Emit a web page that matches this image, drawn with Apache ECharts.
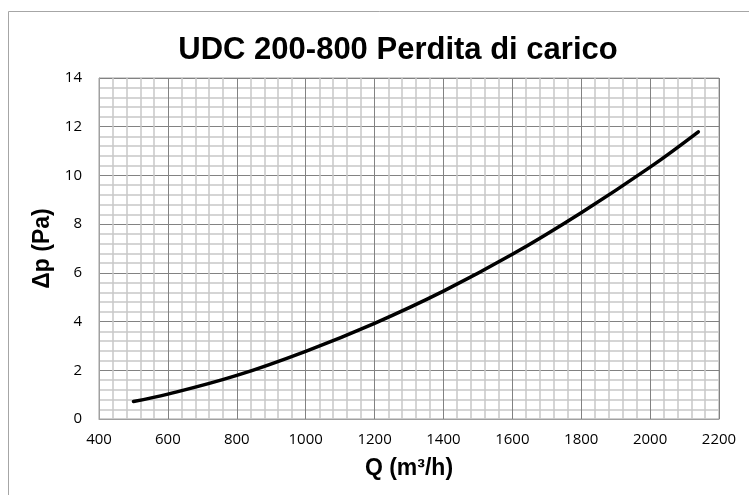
<!DOCTYPE html>
<html>
<head>
<meta charset="utf-8">
<script src="https://cdn.jsdelivr.net/npm/echarts@6/dist/echarts.min.js"></script>
<style>
  html, body { margin: 0; padding: 0; background: #ffffff; }
  #chart { width: 749px; height: 495px; }
</style>
</head>
<body>
<div id="chart"></div>
<script>
// Pressure drop curve of the UDC 200-800 unit
const airflow = [500, 600, 800, 1000, 1200, 1400, 1600, 1800, 2000, 2140];
const pressureDrop = [0.72, 1.02, 1.79, 2.78, 3.93, 5.25, 6.76, 8.47, 10.34, 11.79];

const titleText = 'UDC 200-800 Perdita di carico';
const xName = 'Q (m³/h)';
const yName = 'Δp (Pa)';

const xRange = { min: 400, max: 2200, step: 200 };
const yRange = { min: 0, max: 14, step: 2 };

const chart = echarts.init(document.getElementById('chart'), null, { renderer: 'canvas' });

const tickFont = { fontFamily: 'Open Sans', fontSize: 15, color: '#000000', formatter: v => String(v) };
const nameFont = { fontFamily: 'Liberation Sans', fontWeight: 'bold', fontSize: 23, color: '#000000' };

chart.setOption({
  animation: false,
  backgroundColor: '#ffffff',
  title: {
    text: titleText,
    left: 393,
    top: 30,
    textAlign: 'center',
    textStyle: { fontFamily: 'Liberation Sans', fontWeight: 'bold', fontSize: 31, color: '#000000' }
  },
  graphic: [{
    type: 'rect',
    shape: { x: 8.5, y: 11.5, width: 800, height: 600 },
    style: { fill: 'none', stroke: '#a6a6a6', lineWidth: 1 },
    silent: true,
    z: -10
  }],
  grid: { left: 99, top: 78, right: 30, bottom: 76, show: true, borderColor: '#a0a0a0', borderWidth: 1 },
  xAxis: {
    type: 'value',
    min: xRange.min, max: xRange.max, interval: xRange.step,
    name: xName, nameLocation: 'middle', nameGap: 38,
    nameTextStyle: nameFont,
    axisLine: { show: true, lineStyle: { color: '#a0a0a0', width: 1 } },
    axisTick: { show: false },
    axisLabel: Object.assign({ margin: 13 }, tickFont),
    splitLine: { show: true, lineStyle: { color: '#828282', width: 1 } },
    minorTick: { show: false, splitNumber: 5 },
    minorSplitLine: { show: true, lineStyle: { color: '#c8c8c8', width: 1.5 } }
  },
  yAxis: {
    type: 'value',
    min: yRange.min, max: yRange.max, interval: yRange.step,
    name: yName, nameLocation: 'middle', nameGap: 45, nameRotate: 90,
    nameTextStyle: nameFont,
    axisLine: { show: true, lineStyle: { color: '#a0a0a0', width: 1 } },
    axisTick: { show: false },
    axisLabel: Object.assign({ margin: 17 }, tickFont),
    splitLine: { show: true, lineStyle: { color: '#828282', width: 1 } },
    minorTick: { show: false, splitNumber: 5 },
    minorSplitLine: { show: true, lineStyle: { color: '#c8c8c8', width: 1.5 } }
  },
  series: [{
    type: 'line',
    data: airflow.map((q, i) => [q, pressureDrop[i]]),
    smooth: 0.4,
    showSymbol: false,
    lineStyle: { color: '#000000', width: 3.5, cap: 'round' },
    z: 5
  }]
});
</script>
</body>
</html>
